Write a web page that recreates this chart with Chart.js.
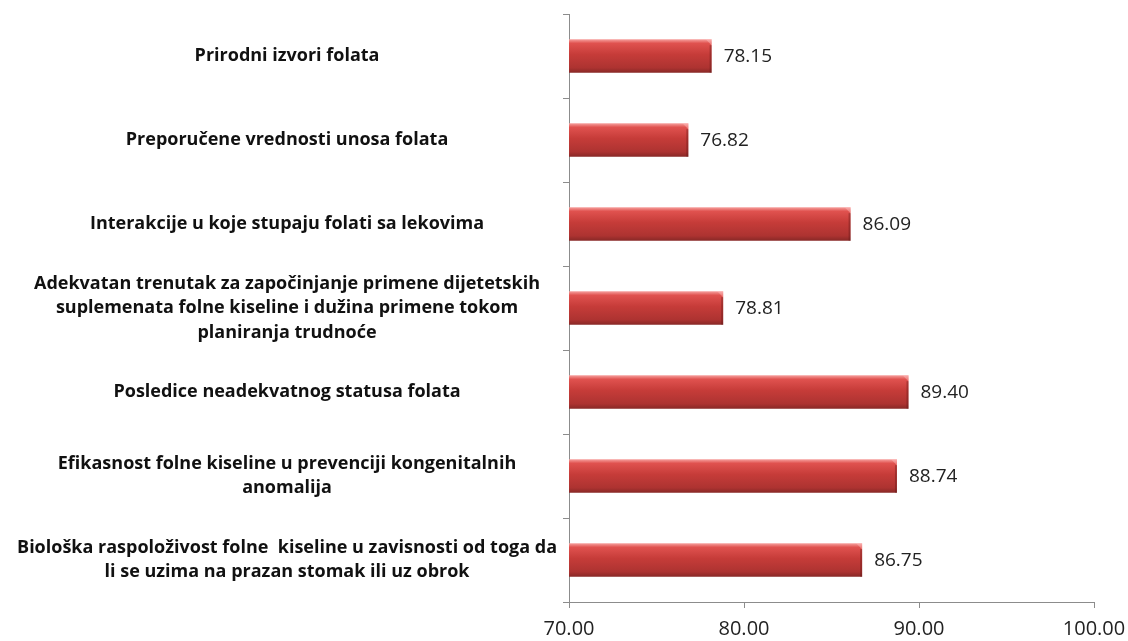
<!DOCTYPE html>
<html>
<head>
<meta charset="utf-8">
<script src="https://cdn.jsdelivr.net/npm/chart.js@4.4.0/dist/chart.umd.min.js"></script>
<style>
  html, body { margin: 0; padding: 0; background: #fff; }
  #wrap { width: 1128px; height: 641px; }
</style>
</head>
<body>
<div id="wrap"><canvas id="chart1" width="1128" height="641"></canvas></div>
<script>
// categories (top to bottom), split into lines as in the original
const categories = [
  ['Prirodni izvori folata'],
  ['Preporučene vrednosti unosa folata'],
  ['Interakcije u koje stupaju folati sa lekovima'],
  ['Adekvatan trenutak za započinjanje primene dijetetskih', 'suplemenata folne kiseline i dužina primene tokom', 'planiranja trudnoće'],
  ['Posledice neadekvatnog statusa folata'],
  ['Efikasnost folne kiseline u prevenciji kongenitalnih', 'anomalija'],
  ['Biološka raspoloživost folne  kiseline u zavisnosti od toga da', 'li se uzima na prazan stomak ili uz obrok']
];
const scores = [78.15, 76.82, 86.09, 78.81, 89.40, 88.74, 86.75];
const xTicks = [70, 80, 90, 100];

const fontFamily = "'Open Sans', 'Liberation Sans', sans-serif";

// red gradient with a light top edge, like the 3D bars of the original
const barShading = {
  id: 'barShading',
  beforeDatasetsDraw(chart) {
    const ctx = chart.ctx;
    chart.getDatasetMeta(0).data.forEach(el => {
      const top = el.y - el.height / 2;
      const bottom = el.y + el.height / 2;
      const g = ctx.createLinearGradient(0, top, 0, bottom);
      g.addColorStop(0, '#f7a3a1');
      g.addColorStop(0.12, '#e0524f');
      g.addColorStop(0.45, '#c63c39');
      g.addColorStop(0.85, '#ad3331');
      g.addColorStop(1, '#872826');
      el.options.backgroundColor = g;
    });
  },
  afterDatasetsDraw(chart) {
    // small bevel on the right end of every bar
    const ctx = chart.ctx;
    ctx.save();
    chart.getDatasetMeta(0).data.forEach(el => {
      const top = el.y - el.height / 2;
      const bottom = el.y + el.height / 2;
      const b = 6;
      ctx.fillStyle = 'rgba(255,190,190,0.45)';
      ctx.beginPath();
      ctx.moveTo(el.x - b, top);
      ctx.lineTo(el.x, top);
      ctx.lineTo(el.x, top + b);
      ctx.closePath();
      ctx.fill();
      ctx.fillStyle = 'rgba(90,20,20,0.35)';
      ctx.fillRect(el.x - 2, top + b, 2, bottom - top - b);
    });
    ctx.restore();
  }
};

// value labels to the right of each bar
const valueLabels = {
  id: 'valueLabels',
  afterDatasetsDraw(chart) {
    const ctx = chart.ctx;
    const ds = chart.data.datasets[0];
    ctx.save();
    ctx.font = '19px ' + fontFamily;
    ctx.fillStyle = '#222';
    ctx.textAlign = 'left';
    ctx.textBaseline = 'middle';
    chart.getDatasetMeta(0).data.forEach((el, i) => {
      ctx.fillText(ds.data[i].toFixed(2), el.x + 12, el.y + 1);
    });
    ctx.restore();
  }
};

const ctx1 = document.getElementById('chart1').getContext('2d');
const myChart1 = new Chart(ctx1, {
  type: 'bar',
  data: {
    labels: categories,
    datasets: [{
      data: scores,
      // scriptable so every bar keeps its own options object
      backgroundColor: c => '#c63c39',
      borderWidth: 0,
      barPercentage: 0.4,
      categoryPercentage: 1
    }]
  },
  options: {
    indexAxis: 'y',
    responsive: false,
    animation: false,
    layout: { padding: { top: 14, right: 34, left: 0, bottom: 0 } },
    plugins: {
      legend: { display: false },
      tooltip: { enabled: false }
    },
    scales: {
      x: {
        min: 70,
        max: 100,
        afterBuildTicks(axis) {
          axis.ticks = xTicks.map(v => ({ value: v }));
        },
        afterFit(axis) {
          axis.height = 39;
          axis.paddingLeft = 0;
          axis.paddingRight = 0;
        },
        border: { display: true, color: '#8c8c8c' },
        grid: { drawOnChartArea: false, tickLength: 6, color: '#8c8c8c' },
        ticks: {
          color: '#222',
          font: { family: fontFamily, size: 20 },
          padding: 9,
          callback: v => v.toFixed(2)
        }
      },
      y: {
        afterFit(axis) {
          axis.width = 569;
          axis.paddingTop = 0;
          axis.paddingBottom = 0;
        },
        border: { display: true, color: '#8c8c8c' },
        grid: { drawOnChartArea: false, offset: true, tickLength: 6, color: '#8c8c8c' },
        ticks: {
          color: '#111',
          crossAlign: 'center',
          padding: 6,
          font: { family: fontFamily, size: 18, weight: 'bold', lineHeight: 1.36 }
        }
      }
    }
  },
  plugins: [barShading, valueLabels]
});
</script>
</body>
</html>
